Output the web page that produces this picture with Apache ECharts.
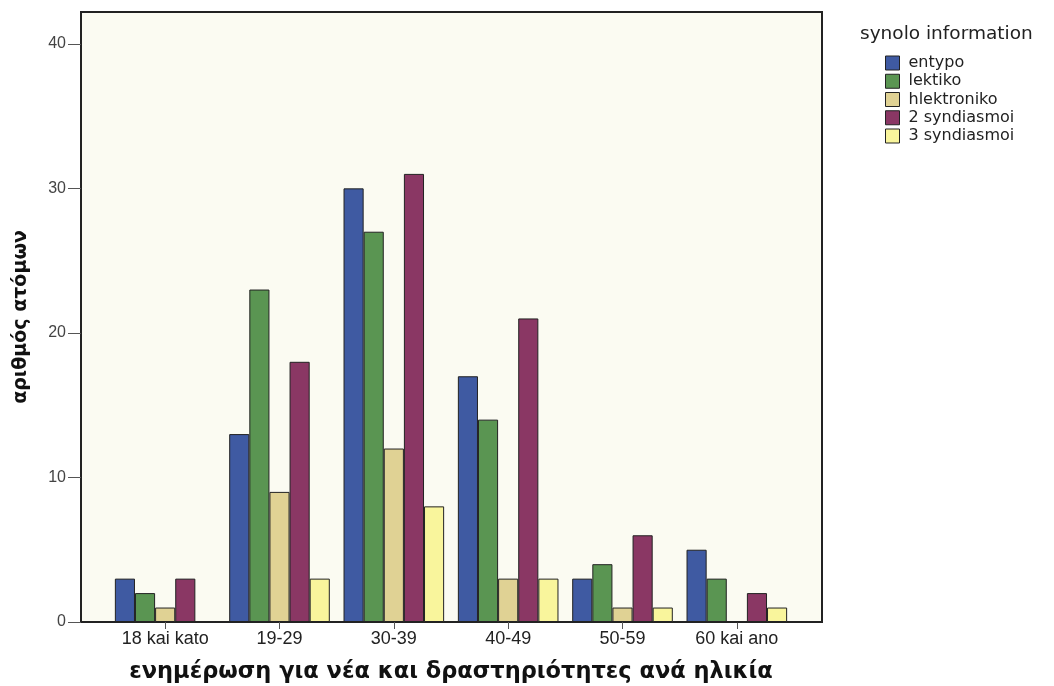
<!DOCTYPE html>
<html>
<head>
<meta charset="utf-8">
<script src="https://cdn.jsdelivr.net/npm/echarts@6/dist/echarts.min.js"></script>
<style>
html,body{margin:0;padding:0;background:#ffffff;}
#c{width:1054px;height:686px;}
</style>
</head>
<body>
<div id="c"></div>
<script>
var categories = ['18 kai kato', '19-29', '30-39', '40-49', '50-59', '60 kai ano'];
var seriesNames = ['entypo', 'lektiko', 'hlektroniko', '2 syndiasmoi', '3 syndiasmoi'];
var entypo = [3, 13, 30, 17, 3, 5];
var lektiko = [2, 23, 27, 14, 4, 3];
var hlektroniko = [1, 9, 12, 3, 1, 0];
var syndiasmoi2 = [3, 18, 31, 21, 6, 2];
var syndiasmoi3 = [0, 3, 8, 3, 1, 1];
var yTicks = [0, 10, 20, 30, 40];
var colors = ['#3f5aa2', '#5a9552', '#e0d294', '#8a3764', '#f9f59c'];

var allData = [entypo, lektiko, hlektroniko, syndiasmoi2, syndiasmoi3];
var wideFont = 'DejaVu Sans, Verdana, sans-serif';
var armFont = 'Liberation Sans, Arial, sans-serif';
var yMax = 42.2;

var chart = echarts.init(document.getElementById('c'));
chart.setOption({
  backgroundColor: '#ffffff',
  animation: false,
  textStyle: { fontFamily: wideFont },
  title: {
    text: 'synolo information',
    left: 855, top: 20,
    textStyle: { fontSize: 18.5, fontWeight: 'normal', color: '#222', fontFamily: wideFont }
  },
  legend: {
    orient: 'vertical',
    left: 880, top: 50,
    itemWidth: 14, itemHeight: 14, itemGap: 2.25,
    icon: 'rect',
    textStyle: { fontSize: 16, lineHeight: 16, color: '#222', padding: [0, 0, 0, 4], fontFamily: wideFont },
    data: seriesNames,
    itemStyle: { borderColor: '#222', borderWidth: 1 }
  },
  grid: [
    {
      left: 81, right: 232, top: 12, bottom: 64, outerBoundsMode: 'none',
      show: true, backgroundColor: '#fbfbf2', borderColor: '#222', borderWidth: 2
    },
    {
      left: 108, right: 260, top: 12, bottom: 64, outerBoundsMode: 'none'
    }
  ],
  xAxis: [
    {
      gridIndex: 0, type: 'category', data: [''], show: false
    },
    {
      gridIndex: 1,
      type: 'category',
      data: categories,
      name: 'ενημέρωση για νέα και δραστηριότητες ανά ηλικία',
      nameLocation: 'middle',
      nameGap: 39,
      nameTextStyle: { fontSize: 22.5, fontWeight: 'bold', color: '#111', fontFamily: wideFont },
      axisLine: { show: false },
      axisTick: { show: true, alignWithLabel: true, length: 7, lineStyle: { color: '#555' } },
      axisLabel: { fontSize: 18, color: '#222', margin: 8, fontFamily: armFont }
    }
  ],
  yAxis: [
    {
      gridIndex: 0,
      type: 'value',
      min: 0, max: yMax,
      interval: 10,
      name: 'αριθμός ατόμων',
      nameLocation: 'middle',
      nameGap: 50,
      nameTextStyle: { fontSize: 19, fontWeight: 'bold', color: '#111', fontFamily: wideFont },
      splitLine: { show: false },
      axisLine: { show: true, lineStyle: { color: '#222', width: 2 } },
      axisTick: { show: true, length: 13, customValues: yTicks, lineStyle: { color: '#555' } },
      axisLabel: { fontSize: 16, color: '#444', customValues: yTicks, margin: 15, fontFamily: armFont }
    },
    {
      gridIndex: 1,
      type: 'value',
      min: 0, max: yMax,
      show: false,
      splitLine: { show: false }
    }
  ],
  series: seriesNames.map(function (n, i) {
    return {
      name: n,
      type: 'bar',
      xAxisIndex: 1,
      yAxisIndex: 1,
      data: allData[i],
      barGap: '0%',
      barCategoryGap: '12%',
      itemStyle: { color: colors[i], borderColor: '#222', borderWidth: 1 }
    };
  })
});
</script>
</body>
</html>
